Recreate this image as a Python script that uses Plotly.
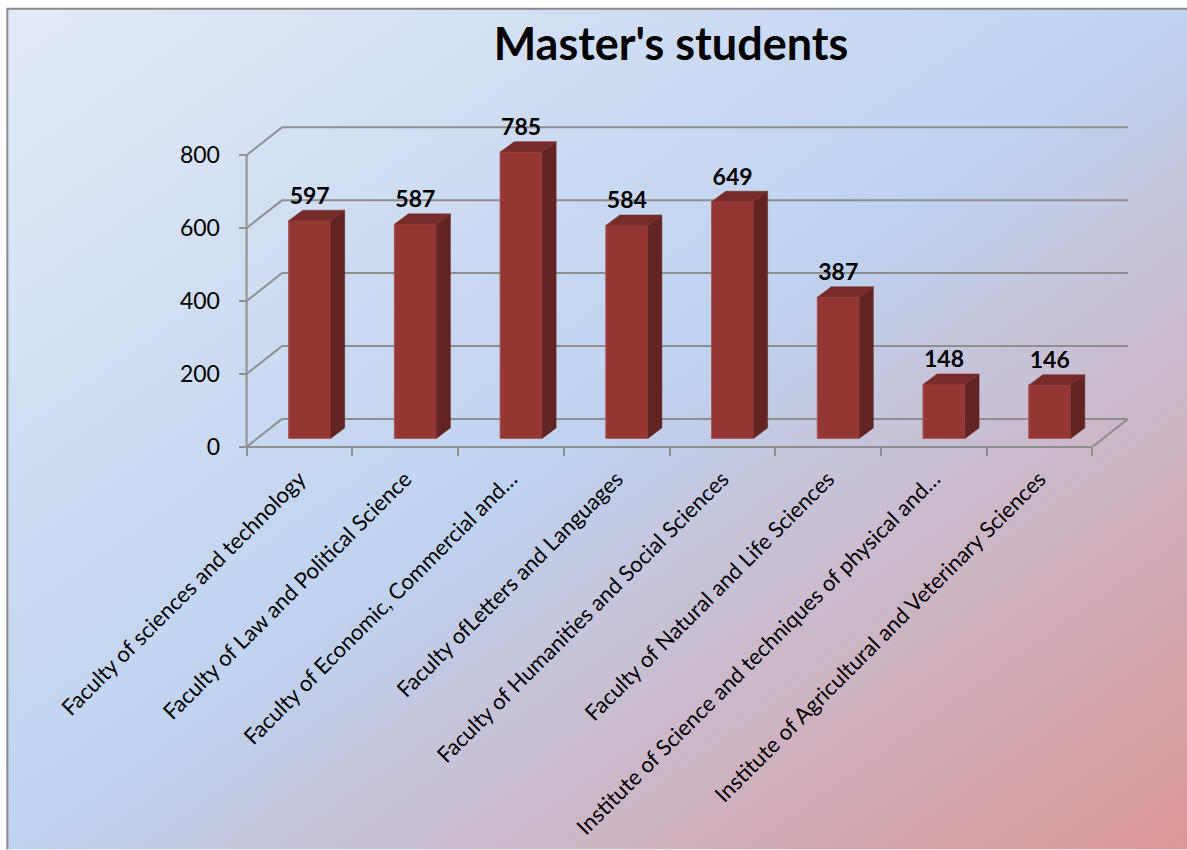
import base64
import plotly.graph_objects as go

categories = ["Faculty of sciences and technology", "Faculty of Law and Political Science",
              "Faculty of Economic, Commercial and…", "Faculty ofLetters and Languages",
              "Faculty of Humanities and Social Sciences", "Faculty of Natural and Life Sciences",
              "Institute of Science and techniques of physical and…",
              "Institute of Agricultural and Veterinary Sciences"]
values = [597, 587, 785, 584, 649, 387, 148, 146]
y_ticks = [0, 200, 400, 600, 800]
title = "Master's students"

W, H = 1187, 850
PX_X, PX_Y = 105.625, 0.365          # pixels per category / per unit
X0_PX, Y0_PX = 247, 447              # pixel of the front-left axis corner
XR = [-0.1, 8.45]
YR = [-25, 880]
plot_w = (XR[1] - XR[0]) * PX_X
plot_h = (YR[1] - YR[0]) * PX_Y
m_l = X0_PX + XR[0] * PX_X
m_t = Y0_PX - YR[0] * PX_Y - plot_h
m_b = H - m_t - plot_h
m_r = W - m_l - plot_w

WALL_DX, WALL_DY = 35.5 / PX_X, 28 / PX_Y
BAR_W = 42 / PX_X
BAR_SHIFT = 10.2 / PX_X
BAR_BASE = 8.5 / PX_Y
SIDE_DX, SIDE_DY = 14 / PX_X, 10.5 / PX_Y
n = len(categories)
GRID = "#8f8f8f"
FRONT, SIDE, TOP = "#943634", "#622423", "#772c2a"
FONT = "Lato"

svg = f'''<svg xmlns="http://www.w3.org/2000/svg" width="{W}" height="{H}" viewBox="0 0 {W} {H}" preserveAspectRatio="none">
<defs><linearGradient id="g" x1="0" y1="0" x2="1" y2="1">
<stop offset="0" stop-color="#E3EAF7"/><stop offset="0.5" stop-color="#BFD2EF"/><stop offset="1" stop-color="#DC9696"/>
</linearGradient></defs>
<rect x="8" y="8" width="{W-8}" height="{H-8}" fill="url(#g)"/>
<path d="M8 {H} V8.5 H{W}" fill="none" stroke="#8a8a8a" stroke-width="2"/>
</svg>'''
bg = "data:image/svg+xml;base64," + base64.b64encode(svg.encode()).decode()

fig = go.Figure()

centers = [i + 0.5 for i in range(n)]
bar_x = [c + BAR_SHIFT for c in centers]

fig.add_trace(go.Bar(x=bar_x, y=values, base=[BAR_BASE] * n, width=BAR_W,
                     marker=dict(color=FRONT, line=dict(color="#a8585a", width=1)),
                     hoverinfo="skip", showlegend=False))

for cx, v in zip(bar_x, values):
    l, r = cx - BAR_W / 2, cx + BAR_W / 2
    t = BAR_BASE + v
    fig.add_trace(go.Scatter(
        x=[r, r + SIDE_DX, r + SIDE_DX, r, r],
        y=[BAR_BASE, BAR_BASE + SIDE_DY, t + SIDE_DY, t, BAR_BASE],
        mode="lines", fill="toself", fillcolor=SIDE, line=dict(color=SIDE, width=0.5),
        hoverinfo="skip", showlegend=False))
    fig.add_trace(go.Scatter(
        x=[l, l + SIDE_DX, r + SIDE_DX, r, l],
        y=[t, t + SIDE_DY, t + SIDE_DY, t, t],
        mode="lines", fill="toself", fillcolor=TOP, line=dict(color=TOP, width=0.5),
        hoverinfo="skip", showlegend=False))

fig.add_trace(go.Scatter(
    x=bar_x, y=[BAR_BASE + v + SIDE_DY + 2 for v in values],
    text=[str(v) for v in values], mode="text", textposition="top center",
    textfont=dict(family=FONT, size=23, color="black", weight="bold"),
    hoverinfo="skip", showlegend=False, cliponaxis=False))

line = dict(color=GRID, width=2)
shapes = []
for v in y_ticks:
    shapes.append(dict(type="line", xref="x", yref="y", x0=0, y0=v, x1=WALL_DX, y1=v + WALL_DY,
                       line=line, layer="below"))
    shapes.append(dict(type="line", xref="x", yref="y", x0=WALL_DX, y0=v + WALL_DY,
                       x1=n + WALL_DX, y1=v + WALL_DY, line=line, layer="below"))
shapes.append(dict(type="line", xref="x", yref="y", x0=0, y0=y_ticks[0], x1=0, y1=y_ticks[-1],
                   line=line, layer="below"))
shapes.append(dict(type="line", xref="x", yref="y", x0=0, y0=0, x1=n, y1=0, line=line, layer="below"))
shapes.append(dict(type="line", xref="x", yref="y", x0=n, y0=0, x1=n + WALL_DX, y1=WALL_DY,
                   line=line, layer="below"))

fig.update_layout(
    width=W, height=H, margin=dict(l=m_l, r=m_r, t=m_t, b=m_b, autoexpand=False),
    paper_bgcolor="white", plot_bgcolor="rgba(0,0,0,0)", showlegend=False,
    font=dict(family=FONT, color="black"),
    title=dict(text=title, x=671 / W, xanchor="center", xref="container", y=1 - 44 / H, yanchor="middle",
               yref="container", font=dict(family=FONT, size=45, color="black", weight="bold")),
    images=[dict(source=bg, xref="paper", yref="paper", x=-m_l / plot_w, y=1 + m_t / plot_h,
                 sizex=W / plot_w, sizey=H / plot_h, xanchor="left", yanchor="top",
                 sizing="stretch", layer="below")],
    shapes=shapes,
    xaxis=dict(range=XR, anchor="free", position=-YR[0] / (YR[1] - YR[0]),
               tickmode="array", tickvals=centers, ticktext=categories, tickangle=-45,
               ticks="", showgrid=False, zeroline=False, showline=False,
               tickfont=dict(family=FONT, size=22, color="black"), ticklabelstandoff=14,
               minor=dict(tickmode="array", tickvals=list(range(n + 1)), ticks="outside",
                          ticklen=8, tickwidth=2, tickcolor=GRID, showgrid=False)),
    yaxis=dict(range=YR, anchor="free", position=-XR[0] / (XR[1] - XR[0]),
               tickmode="array", tickvals=y_ticks, ticks="outside", ticklen=8, tickwidth=2,
               tickcolor=GRID, showgrid=False, zeroline=False, showline=False,
               tickfont=dict(family=FONT, size=23, color="black"), ticklabelstandoff=14),
)

fig.write_html("out.html", config=dict(displayModeBar=False),
               post_script="document.body.style.margin='0';document.body.style.overflow='hidden';")
